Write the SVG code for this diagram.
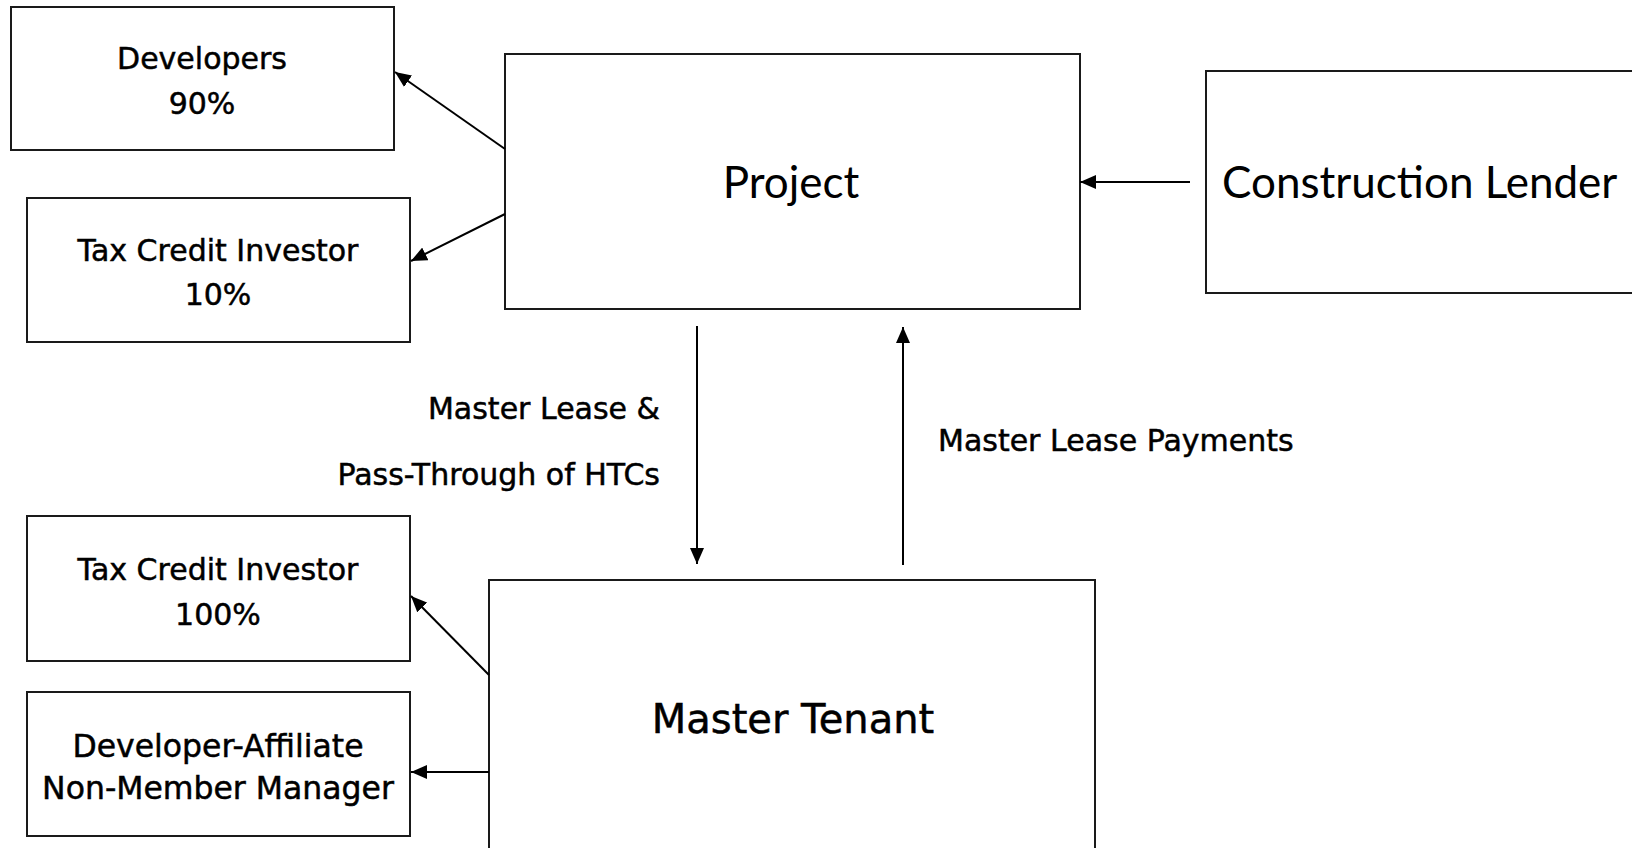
<svg xmlns="http://www.w3.org/2000/svg" width="1632" height="848" viewBox="0 0 1632 848">
<style>
.box{fill:#fff;stroke:#1a1a1a;stroke-width:2}
.t{font-family:"DejaVu Sans","Liberation Sans",sans-serif;font-size:30px;fill:#000;stroke:#000;stroke-width:0.5}
.c{text-anchor:middle}
.big{font-family:Lato,"DejaVu Sans",sans-serif;font-size:44px;fill:#000}
.mt{font-family:"DejaVu Sans","Liberation Sans",sans-serif;font-size:40px;fill:#000;stroke:#000;stroke-width:0.5}
.conn{stroke:#000;stroke-width:2;fill:none;marker-end:url(#arr)}
</style>
<defs>
<marker id="arr" markerUnits="userSpaceOnUse" markerWidth="16" markerHeight="14" refX="16" refY="7" orient="auto">
<path d="M0,0 L16,7 L0,14 z" fill="#000"/>
</marker>
</defs>
<rect width="1632" height="848" fill="#fff"/>
<g id="developers">
<rect class="box" x="11" y="7" width="383" height="143"/>
<text class="t c" x="202" y="69">Developers</text>
<text class="t c" x="202" y="114">90%</text>
</g>
<g id="tci10">
<rect class="box" x="27" y="198" width="383" height="144"/>
<text class="t c" x="218" y="261">Tax Credit Investor</text>
<text class="t c" x="218" y="305">10%</text>
</g>
<g id="project">
<rect class="box" x="505" y="54" width="575" height="255"/>
<text class="big c" x="791" y="198">Project</text>
</g>
<g id="lender">
<rect class="box" x="1206" y="71" width="440" height="222"/>
<text class="big" x="1222" y="198">Construction Lender</text>
</g>
<g id="tci100">
<rect class="box" x="27" y="516" width="383" height="145"/>
<text class="t c" x="218" y="580">Tax Credit Investor</text>
<text class="t c" x="218" y="625">100%</text>
</g>
<g id="manager">
<rect class="box" x="27" y="692" width="383" height="144"/>
<text class="t c" x="218" y="757" style="font-size:31.5px">Developer-Affiliate</text>
<text class="t c" x="218" y="799" style="font-size:31.5px">Non-Member Manager</text>
</g>
<g id="mastertenant">
<rect class="box" x="489" y="580" width="606" height="320"/>
<text class="mt c" x="793" y="733">Master Tenant</text>
</g>
<g id="connectors">
<line class="conn" x1="505" y1="149" x2="395" y2="72"/>
<line class="conn" x1="505" y1="214" x2="411" y2="261"/>
<line class="conn" x1="1190" y1="182" x2="1080" y2="182"/>
<line class="conn" x1="697" y1="326" x2="697" y2="564"/>
<line class="conn" x1="903" y1="565" x2="903" y2="327"/>
<line class="conn" x1="489" y1="675" x2="411" y2="596"/>
<line class="conn" x1="489" y1="772" x2="411" y2="772"/>
</g>
<g id="labels">
<text class="t" x="660" y="419" text-anchor="end">Master Lease &amp;</text>
<text class="t" x="660" y="485" text-anchor="end">Pass-Through of HTCs</text>
<text class="t" x="938" y="451">Master Lease Payments</text>
</g>
</svg>
